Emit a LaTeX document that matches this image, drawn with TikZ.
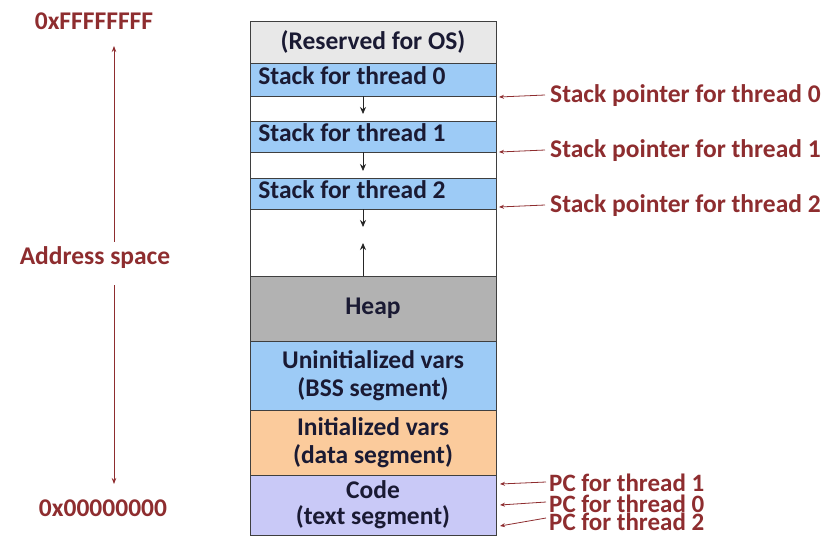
\documentclass[tikz,border=0pt]{standalone}
\usepackage{fontspec}
\setmainfont{Carlito}
\usetikzlibrary{arrows.meta}
\definecolor{lblred}{HTML}{8E2D2F}
\definecolor{boxtext}{HTML}{1A1A33}
\definecolor{osgray}{HTML}{E8E8E8}
\definecolor{stackblue}{HTML}{9DCBF6}
\definecolor{heapgray}{HTML}{B2B2B2}
\definecolor{dataorange}{HTML}{FBCB9C}
\definecolor{codepurple}{HTML}{C9C9F7}
\definecolor{edge}{HTML}{3F3F3F}
\tikzset{
  seg/.style={draw=edge, line width=0.9pt, minimum width=246pt, inner sep=0pt,
    font=\fontsize{25.5}{28}\selectfont\bfseries, text=boxtext, align=center},
  lbl/.style={font=\fontsize{25.5}{28}\selectfont\bfseries, text=lblred, inner sep=0pt},
  pclbl/.style={lbl, font=\fontsize{25}{26}\selectfont\bfseries},
  ptr/.style={draw=lblred, line width=0.8pt, -{Stealth[length=5pt,width=4pt]}},
  growarrow/.style={draw=black!85, line width=0.8pt, -{Stealth[length=7pt,width=6pt]}},
  spanarrow/.style={draw=lblred, line width=0.8pt, -{Stealth[length=6pt,width=4.5pt]}}
}
\begin{document}
\begin{tikzpicture}[x=1pt,y=-1pt]
\useasboundingbox (0,0) rectangle (837,535);
% memory column, top to bottom
\node[seg, fill=osgray,     minimum height=42pt] (os)   at (373,42)    {(Reserved for OS)};
\node[seg, fill=stackblue,  minimum height=33pt] (s0)   at (373,79.5)  {};
\node[seg, fill=white,      minimum height=25pt] (g0)   at (373,108.5) {};
\node[seg, fill=stackblue,  minimum height=31pt] (s1)   at (373,136.5) {};
\node[seg, fill=white,      minimum height=26pt] (g1)   at (373,165)   {};
\node[seg, fill=stackblue,  minimum height=31pt] (s2)   at (373,193.5) {};
\node[seg, fill=white,      minimum height=67pt] (free) at (373,242.5) {};
\node[seg, fill=heapgray,   minimum height=65pt] (heap) at (373,308.5) {Heap};
\node[seg, fill=stackblue,  minimum height=69pt] (bss)  at (373,375.5) {Uninitialized vars\\(BSS segment)};
\node[seg, fill=dataorange, minimum height=65pt] (data) at (373,442.5) {Initialized vars\\(data segment)};
\node[seg, fill=codepurple, minimum height=60pt, font=\fontsize{25.5}{26}\selectfont\bfseries] (code) at (373,505) {Code\\(text segment)};
% stack labels sit a little above the middle of their bands
\node[seg, draw=none, minimum height=0pt] (s0t) at (352,76)  {Stack for thread 0};
\node[seg, draw=none, minimum height=0pt] (s1t) at (352,133) {Stack for thread 1};
\node[seg, draw=none, minimum height=0pt] (s2t) at (352,190) {Stack for thread 2};

% growth directions of the stacks and the heap
\coordinate (d0) at (363,114);
\coordinate (d1) at (363,171);
\coordinate (d2) at (363,227);
\coordinate (u0) at (363,243);
\draw[growarrow] (s0.south -| d0) -- (d0);
\draw[growarrow] (s1.south -| d1) -- (d1);
\draw[growarrow] (s2.south -| d2) -- (d2);
\draw[growarrow] (heap.north -| u0) -- (u0);

% stack pointers
\node[lbl, anchor=west] (sp0) at (550,96)  {Stack pointer for thread 0};
\node[lbl, anchor=west] (sp1) at (550,151) {Stack pointer for thread 1};
\node[lbl, anchor=west] (sp2) at (550,206) {Stack pointer for thread 2};
\coordinate (t0) at (499,97);
\coordinate (t1) at (499,152);
\coordinate (t2) at (499,207);
\draw[ptr] ([xshift=-5pt,yshift=1pt]sp0.west) -- (t0);
\draw[ptr] ([xshift=-5pt,yshift=1pt]sp1.west) -- (t1);
\draw[ptr] ([xshift=-5pt,yshift=1pt]sp2.west) -- (t2);

% program counters
\node[pclbl, anchor=west] (pc1) at (549,483)   {PC for thread 1};
\node[pclbl, anchor=west] (pc0) at (549,503.5) {PC for thread 0};
\node[pclbl, anchor=west] (pc2) at (549,522)   {PC for thread 2};
\coordinate (c1) at (500,484);
\coordinate (c0) at (500,505);
\coordinate (c2) at (500,526);
\draw[ptr] ([xshift=-3pt,yshift=1pt]pc1.west) -- (c1);
\draw[ptr] ([xshift=-3pt,yshift=1.5pt]pc0.west) -- (c0);
\draw[ptr] ([xshift=-3pt,yshift=4pt]pc2.west) -- (c2);

% address range on the left
\node[lbl] (hi)   at (94,21)  {0xFFFFFFFF};
\node[lbl] (asp)  at (95,258) {Address space};
\node[lbl] (lo)   at (103,508) {0x00000000};
\coordinate (top) at (114,46);
\coordinate (bot) at (114,484);
\draw[spanarrow] (asp.north -| top) ++(0,-5) -- (top);
\draw[spanarrow] (asp.south -| bot) ++(0,16) -- (bot);
\end{tikzpicture}
\end{document}
